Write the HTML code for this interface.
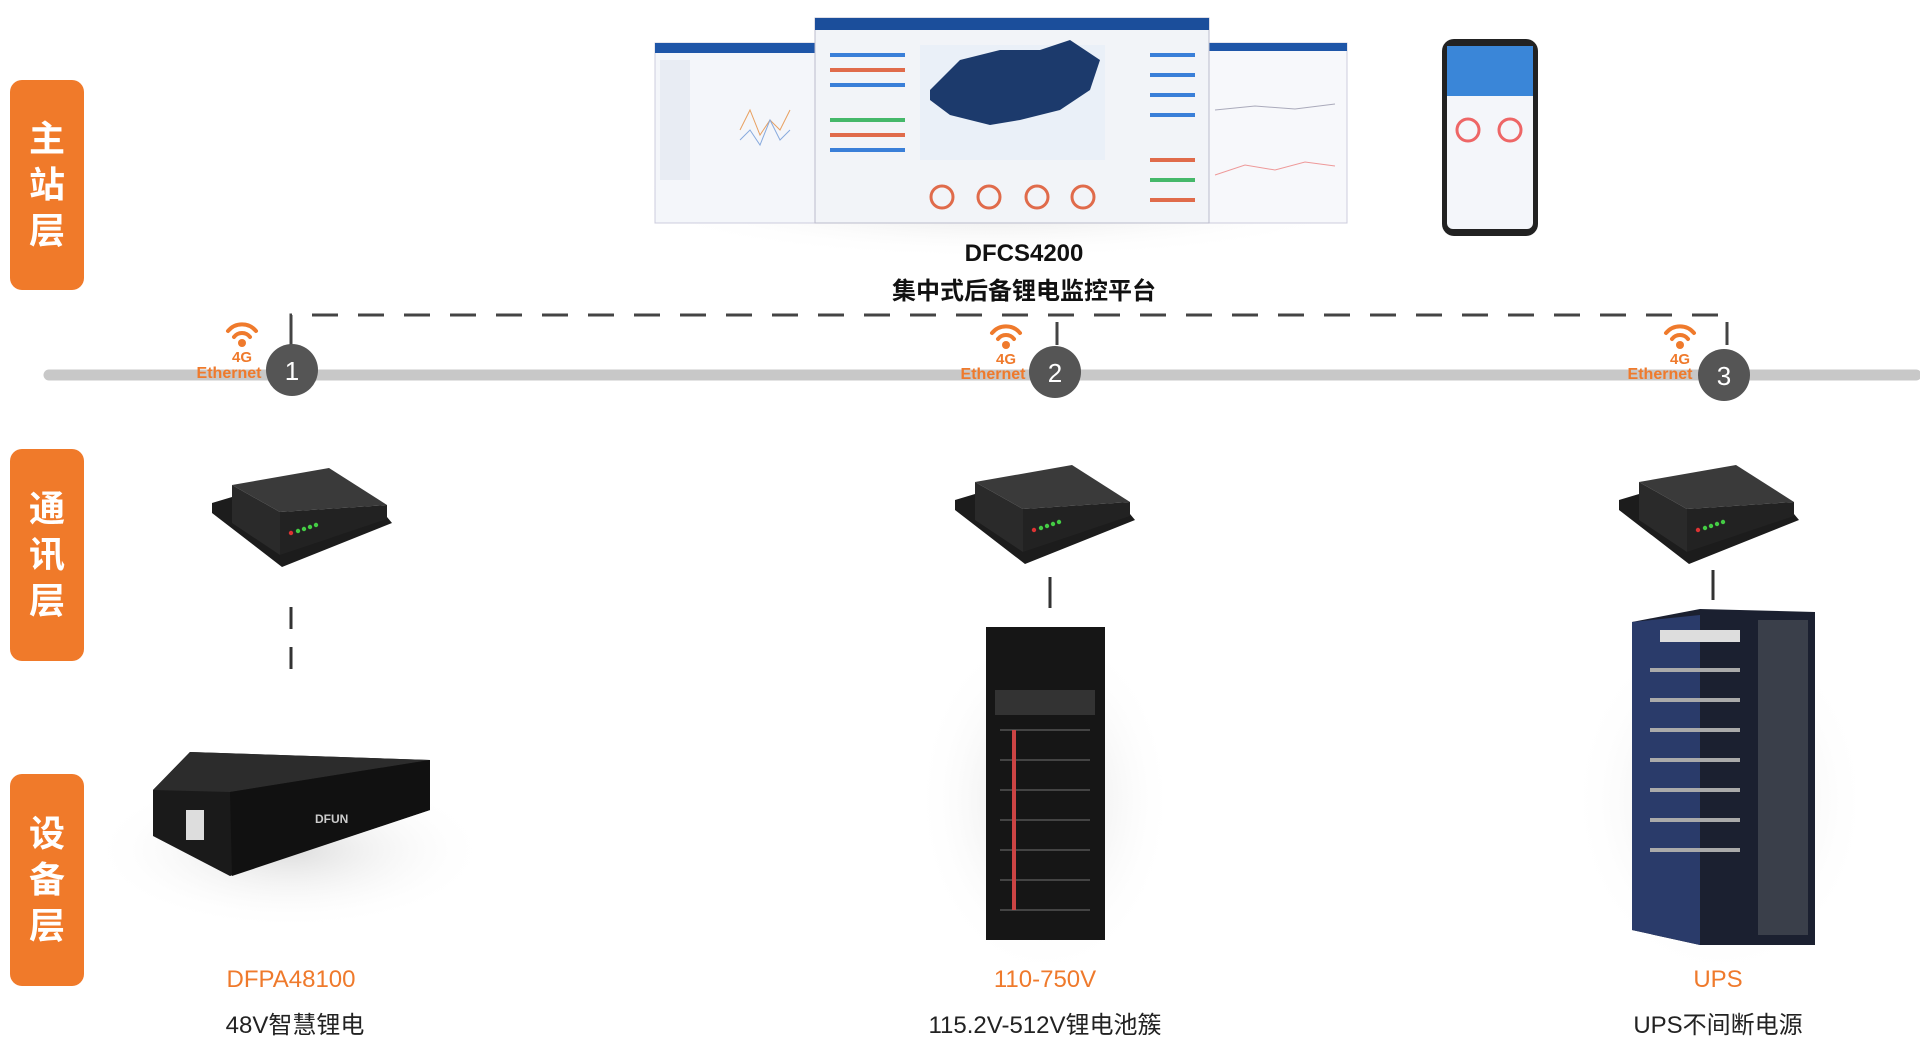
<!DOCTYPE html>
<html><head><meta charset="utf-8"><style>
html,body{margin:0;padding:0;background:#fff;width:1920px;height:1052px;overflow:hidden;font-family:"Liberation Sans","Noto Sans CJK SC",sans-serif}
.side{position:absolute;left:10px;width:74px;background:#f07a2a;border-radius:12px;color:#fff;font-size:36px;font-weight:bold;text-align:center;line-height:46px;display:flex;flex-direction:column;justify-content:center}
.t{position:absolute;text-align:center;transform:translateX(-50%);white-space:nowrap}
.n{font-size:26px;color:#fff;font-family:"Liberation Sans",sans-serif}
</style></head><body>
<div class="side" style="top:80px;height:210px">主<br>站<br>层</div>
<div class="side" style="top:449px;height:212px">通<br>讯<br>层</div>
<div class="side" style="top:774px;height:212px">设<br>备<br>层</div>

<svg width="1920" height="1052" style="position:absolute;left:0;top:0">
<defs>
<radialGradient id="sh" cx="50%" cy="50%" r="50%"><stop offset="0" stop-color="#ddd"/><stop offset="1" stop-color="#fff" stop-opacity="0"/></radialGradient>
<g id="router">
<polygon points="0,48 20,42 68,78 175,62 180,68 70,112 0,58" fill="#1c1c1c"/>
<polygon points="20,30 117,13 175,50 68,57" fill="#3a3a3a"/>
<polygon points="20,30 68,57 68,100 20,68" fill="#2a2a2a"/>
<polygon points="68,57 175,50 175,64 68,100" fill="#222"/>
<circle cx="79" cy="78" r="2.2" fill="#d33"/><circle cx="86" cy="76" r="2.2" fill="#4c4"/><circle cx="92" cy="74" r="2.2" fill="#4c4"/><circle cx="98" cy="72" r="2.2" fill="#4c4"/><circle cx="104" cy="70" r="2.2" fill="#4c4"/>
</g>
<g id="wifi" fill="none" stroke="#ef7a2c" stroke-width="4" stroke-linecap="round">
<path d="M-14,-4 A18,18 0 0 1 14,-4"/><path d="M-8,2 A10,10 0 0 1 8,2"/><circle cx="0" cy="8" r="4" fill="#ef7a2c" stroke="none"/>
</g>
</defs>
<ellipse cx="1000" cy="200" rx="380" ry="60" fill="url(#sh)"/>
<ellipse cx="290" cy="850" rx="200" ry="80" fill="url(#sh)"/>
<ellipse cx="1045" cy="800" rx="130" ry="180" fill="url(#sh)"/>
<ellipse cx="1720" cy="800" rx="150" ry="180" fill="url(#sh)"/>
<rect x="655" y="43" width="163" height="180" fill="#f4f6fa" stroke="#ccd"/>
<rect x="655" y="43" width="163" height="10" fill="#1e56a8"/>
<rect x="660" y="60" width="30" height="120" fill="#e8ecf3"/>
<path d="M740,130 l10,-20 10,25 10,-15 10,10 10,-20" stroke="#e8a060" fill="none"/>
<path d="M740,140 l10,-10 10,15 10,-25 10,20 10,-10" stroke="#88aadd" fill="none"/>
<rect x="1209" y="43" width="138" height="180" fill="#f7f8fb" stroke="#ccd"/>
<rect x="1209" y="43" width="138" height="8" fill="#1e56a8"/>
<path d="M1215,110 l40,-4 40,3 40,-5" stroke="#aab" fill="none"/>
<path d="M1215,175 l30,-10 30,5 30,-8 30,4" stroke="#e99" fill="none"/>
<rect x="815" y="18" width="394" height="205" fill="#f2f4f8" stroke="#bbc"/>
<rect x="815" y="18" width="394" height="12" fill="#1b4e9b"/>
<rect x="920" y="45" width="185" height="115" fill="#eaf0f8"/>
<path d="M930,90 l30,-30 40,-10 40,0 30,-10 30,20 -10,30 -30,20 -40,10 -30,5 -40,-10 -20,-15z" fill="#1c3a6c"/>
<g stroke-width="4">
<line x1="830" y1="55" x2="905" y2="55" stroke="#3a7fd8"/><line x1="830" y1="70" x2="905" y2="70" stroke="#e06b4b"/>
<line x1="830" y1="85" x2="905" y2="85" stroke="#3a7fd8"/><line x1="830" y1="120" x2="905" y2="120" stroke="#45b86a"/>
<line x1="830" y1="135" x2="905" y2="135" stroke="#e06b4b"/><line x1="830" y1="150" x2="905" y2="150" stroke="#3a7fd8"/>
<line x1="1150" y1="55" x2="1195" y2="55" stroke="#3a7fd8"/><line x1="1150" y1="75" x2="1195" y2="75" stroke="#3a7fd8"/>
<line x1="1150" y1="95" x2="1195" y2="95" stroke="#3a7fd8"/><line x1="1150" y1="115" x2="1195" y2="115" stroke="#3a7fd8"/>
<line x1="1150" y1="160" x2="1195" y2="160" stroke="#e06b4b"/><line x1="1150" y1="180" x2="1195" y2="180" stroke="#45b86a"/>
<line x1="1150" y1="200" x2="1195" y2="200" stroke="#e06b4b"/>
</g>
<g fill="none" stroke="#e06b4b" stroke-width="3"><circle cx="942" cy="197" r="11"/><circle cx="989" cy="197" r="11"/><circle cx="1037" cy="197" r="11"/><circle cx="1083" cy="197" r="11"/></g>
<rect x="1442" y="39" width="96" height="197" rx="12" fill="#222"/>
<rect x="1447" y="46" width="86" height="183" rx="6" fill="#f4f6fa"/>
<rect x="1447" y="46" width="86" height="50" fill="#3a86d8"/>
<circle cx="1468" cy="130" r="11" fill="none" stroke="#e66" stroke-width="3"/><circle cx="1510" cy="130" r="11" fill="none" stroke="#e66" stroke-width="3"/>
<line x1="49" y1="375" x2="1916" y2="375" stroke="#c8c8c8" stroke-width="11" stroke-linecap="round"/>
<path d="M291,340 V315 H1727 V340" fill="none" stroke="#444" stroke-width="3" stroke-dasharray="26,20"/>
<line x1="291" y1="322" x2="291" y2="345" stroke="#444" stroke-width="3"/>
<line x1="1057" y1="322" x2="1057" y2="345" stroke="#444" stroke-width="3"/>
<line x1="1727" y1="322" x2="1727" y2="345" stroke="#444" stroke-width="3"/>
<circle cx="292" cy="370" r="26" fill="#555"/><circle cx="1055" cy="372" r="26" fill="#555"/><circle cx="1724" cy="375" r="26" fill="#555"/>
<use href="#wifi" x="242" y="335"/><use href="#wifi" x="1006" y="337"/><use href="#wifi" x="1680" y="337"/>
<use href="#router" x="212" y="455"/><use href="#router" x="955" y="452"/><use href="#router" x="1619" y="452"/>
<line x1="291" y1="607" x2="291" y2="672" stroke="#333" stroke-width="3" stroke-dasharray="22,18"/>
<line x1="1050" y1="577" x2="1050" y2="608" stroke="#333" stroke-width="3"/>
<line x1="1713" y1="570" x2="1713" y2="600" stroke="#333" stroke-width="3"/>
<polygon points="153,790 190,752 430,760 430,810 230,876 153,836" fill="#1a1a1a"/>
<polygon points="153,790 190,752 430,760 230,792" fill="#2c2c2c"/>
<polygon points="230,792 430,760 430,810 232,876" fill="#111"/>
<rect x="186" y="810" width="18" height="30" fill="#ddd"/>
<text x="315" y="823" fill="#ccc" font-size="12" font-weight="bold">DFUN</text>
<rect x="986" y="627" width="119" height="313" fill="#161616"/>
<rect x="995" y="690" width="100" height="25" fill="#333"/>
<g stroke="#444" stroke-width="2"><line x1="1000" y1="730" x2="1090" y2="730"/><line x1="1000" y1="760" x2="1090" y2="760"/><line x1="1000" y1="790" x2="1090" y2="790"/><line x1="1000" y1="820" x2="1090" y2="820"/><line x1="1000" y1="850" x2="1090" y2="850"/><line x1="1000" y1="880" x2="1090" y2="880"/><line x1="1000" y1="910" x2="1090" y2="910"/></g>
<g fill="#c44"><rect x="1012" y="730" width="4" height="180"/></g>
<polygon points="1632,622 1700,609 1815,612 1815,945 1700,945 1632,930" fill="#1b2030"/>
<polygon points="1632,622 1700,615 1700,945 1632,930" fill="#2a3b6a"/>
<rect x="1660" y="630" width="80" height="12" fill="#ddd"/>
<g stroke="#aaa" stroke-width="4"><line x1="1650" y1="670" x2="1740" y2="670"/><line x1="1650" y1="700" x2="1740" y2="700"/><line x1="1650" y1="730" x2="1740" y2="730"/><line x1="1650" y1="760" x2="1740" y2="760"/><line x1="1650" y1="790" x2="1740" y2="790"/><line x1="1650" y1="820" x2="1740" y2="820"/><line x1="1650" y1="850" x2="1740" y2="850"/></g>
<rect x="1758" y="620" width="50" height="315" fill="#3a3f4a"/>
</svg>

<div class="t" style="left:1024px;top:240px;font-size:24px;font-weight:bold;color:#111">DFCS4200</div>
<div class="t" style="left:1024px;top:271px;font-size:24px;font-weight:bold;color:#111">集中式后备锂电监控平台</div>
<div class="t n" style="left:292px;top:356px">1</div>
<div class="t n" style="left:1055px;top:358px">2</div>
<div class="t n" style="left:1724px;top:361px">3</div>
<div class="t" style="left:242px;top:350px;font-size:15px;font-weight:bold;color:#ef7a2c;line-height:16px">4G</div>
<div class="t" style="left:229px;top:365px;font-size:16px;font-weight:bold;color:#ef7a2c">Ethernet</div>
<div class="t" style="left:1006px;top:352px;font-size:15px;font-weight:bold;color:#ef7a2c;line-height:16px">4G</div>
<div class="t" style="left:993px;top:366px;font-size:16px;font-weight:bold;color:#ef7a2c">Ethernet</div>
<div class="t" style="left:1680px;top:352px;font-size:15px;font-weight:bold;color:#ef7a2c;line-height:16px">4G</div>
<div class="t" style="left:1660px;top:366px;font-size:16px;font-weight:bold;color:#ef7a2c">Ethernet</div>

<div class="t" style="left:291px;top:966px;font-size:24px;color:#ef7a2c">DFPA48100</div>
<div class="t" style="left:295px;top:1005px;font-size:24px;color:#222">48V智慧锂电</div>
<div class="t" style="left:1045px;top:966px;font-size:24px;color:#ef7a2c">110-750V</div>
<div class="t" style="left:1045px;top:1005px;font-size:24px;color:#222">115.2V-512V锂电池簇</div>
<div class="t" style="left:1718px;top:966px;font-size:24px;color:#ef7a2c">UPS</div>
<div class="t" style="left:1718px;top:1005px;font-size:24px;color:#222">UPS不间断电源</div>
</body></html>
